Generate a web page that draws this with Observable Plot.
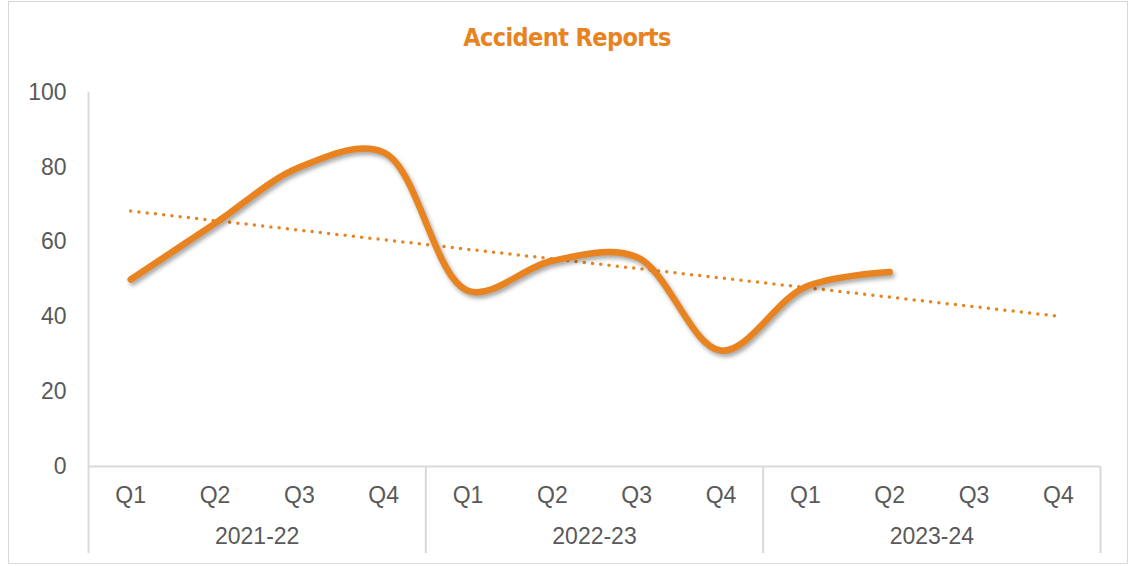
<!DOCTYPE html>
<html>
<head>
<meta charset="utf-8">
<script src="https://cdn.jsdelivr.net/npm/d3@7"></script>
<script src="https://cdn.jsdelivr.net/npm/@observablehq/plot@0.6"></script>
<style>
  html, body { margin: 0; padding: 0; background: #fff; }
  #wrap { position: relative; width: 1134px; height: 566px; overflow: hidden; background: #fff; }
  #frame { position: absolute; left: 8px; top: 1px; width: 1120px; height: 563px; border: 1px solid #D9D9D9; box-sizing: border-box; }
  #title { position: relative; height: 70px; box-sizing: border-box; padding-top: 25px; text-align: center;
    font-family: "Liberation Sans Narrow", "DejaVu Sans Condensed", sans-serif; font-stretch: condensed;
    font-weight: bold; font-size: 25px; line-height: 25px; color: #E8831F; letter-spacing: -0.6px; }
  #chart { position: relative; }
  g[aria-description="main"] path { filter: drop-shadow(2px 3px 2px rgba(0,0,0,0.35)); }
</style>
</head>
<body>
<div id="wrap">
  <div id="frame"></div>
  <div id="title">Accident Reports</div>
  <div id="chart"></div>
</div>
<script>
const years = ["2021-22", "2022-23", "2023-24"];
const quarters = ["Q1", "Q2", "Q3", "Q4"];
const accidents = [50, 65, 80, 84, 47, 55, 56, 31, 48, 52];
const yTicks = [0, 20, 40, 60, 80, 100];

const nSlots = years.length * quarters.length;
const points = accidents.map((v, i) => ({i: i + 1, v}));

// linear trendline (least squares) over the reported quarters, extended to all slots
const mx = d3.mean(points, d => d.i), my = d3.mean(points, d => d.v);
const slope = d3.sum(points, d => (d.i - mx) * (d.v - my)) / d3.sum(points, d => (d.i - mx) ** 2);
const trend = [1, nSlots].map(i => ({i, v: my + slope * (i - mx)}));

const slotTicks = d3.range(1, nSlots + 1);
const groupCenters = years.map((_, k) => k * 4 + 2.5);
const groupEdges = d3.range(0, years.length + 1).map(k => k * 4 + 0.5);

const orange = "#E8831F";
const grid = "#D9D9D9";

const plot = Plot.plot({
  width: 1134,
  height: 496,
  marginTop: 22,
  marginBottom: 100,
  marginLeft: 88,
  marginRight: 34,
  style: {fontFamily: "'Liberation Sans', Arial, sans-serif", fontSize: "23px", color: "#595959", background: "transparent"},
  x: {domain: [0.5, nSlots + 0.5]},
  y: {domain: [0, 100]},
  marks: [
    Plot.ruleX([0.5], {stroke: grid, strokeWidth: 2}),
    Plot.ruleY([0], {stroke: grid, strokeWidth: 2}),
    Plot.axisX({ticks: groupEdges, tickSize: 87, tickFormat: () => "", stroke: grid, strokeWidth: 2, strokeOpacity: 1, label: null}),
    Plot.axisX({ticks: slotTicks, tickSize: 0, tickPadding: 20, tickFormat: i => quarters[(i - 1) % 4], label: null}),
    Plot.axisX({ticks: groupCenters, tickSize: 0, tickPadding: 61, tickFormat: c => years[Math.floor(c / 4)], label: null}),
    Plot.axisY({ticks: yTicks, tickSize: 0, tickPadding: 22, label: null}),
    Plot.line(trend, {x: "i", y: "v", stroke: orange, strokeWidth: 3.5, strokeLinecap: "round", strokeDasharray: "0 8.3"}),
    Plot.line(points, {x: "i", y: "v", stroke: orange, strokeWidth: 6.5, strokeLinecap: "round", curve: "catmull-rom", ariaDescription: "main"})
  ]
});
document.getElementById("chart").appendChild(plot);
</script>
</body>
</html>
